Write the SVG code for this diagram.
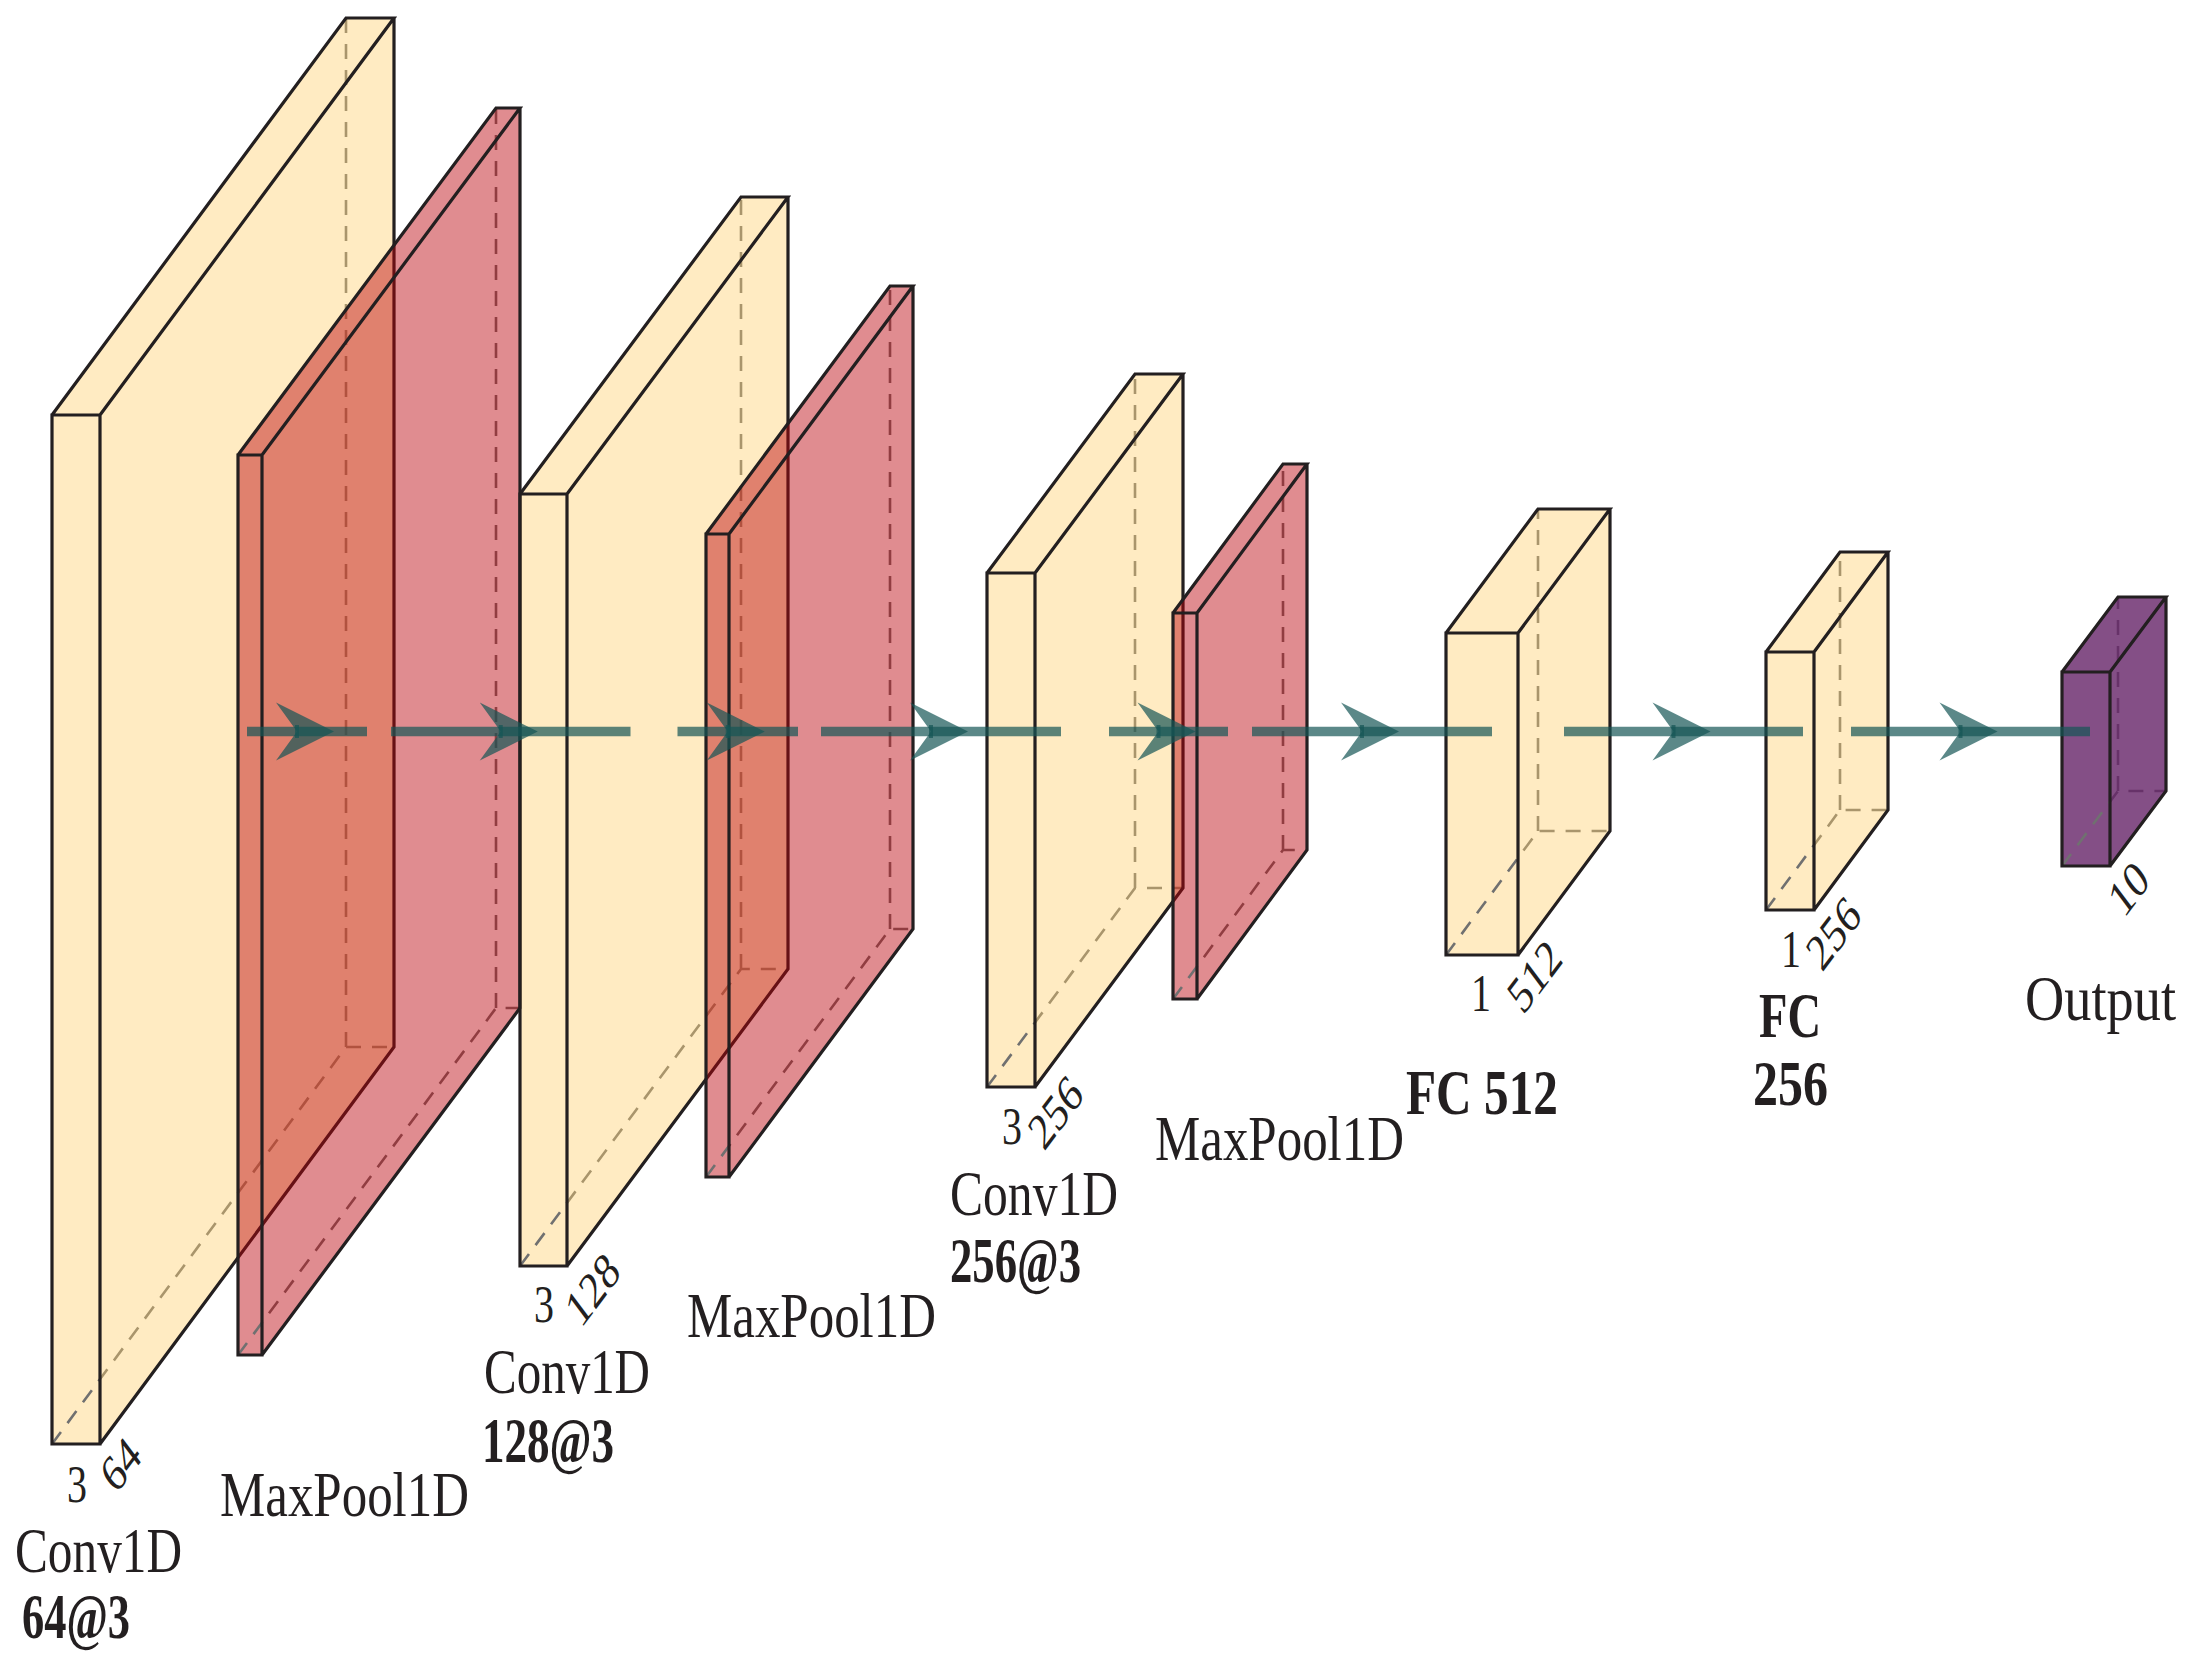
<svg xmlns="http://www.w3.org/2000/svg" width="2195" height="1658" viewBox="0 0 2195 1658">
<style>
.conv .face{fill:rgb(255,204,102);fill-opacity:0.4}
.pool .face{fill:rgb(187,0,9);fill-opacity:0.45}
.out .face{fill:rgb(101,35,104);fill-opacity:0.8}
.hid{fill:none;stroke:#707070;stroke-width:2.6;stroke-dasharray:15 11}
.edge{fill:none;stroke:#231f20;stroke-width:3.2;stroke-linejoin:miter}
.lbl{font-family:"Liberation Serif",serif;font-size:48px;fill:#231f20}
.b{font-weight:bold}
.dim{font-family:"Liberation Serif",serif;font-size:39px;fill:#231f20}
.dim2{font-family:"Liberation Serif",serif;font-size:40px;fill:#231f20}
.ln{stroke:rgb(21,85,85);stroke-opacity:0.7;stroke-width:9.5;fill:none}
</style>
<defs>
<g id="ah">
<path d="M-31,-29 L27,0 L-31,29 L-10,0 Z" fill="rgb(21,85,85)" fill-opacity="0.7"/>
<rect x="-12" y="-6.5" width="4" height="13" fill="rgb(21,85,85)" fill-opacity="0.7"/>
</g>
</defs>
<rect width="2195" height="1658" fill="#ffffff"/>

<g id="conv1" class="conv">
<path class="face" d="M52,415H100V1444H52Z"/>
<path class="hid" d="M52,1444L346,1047H394M346,1047V18"/>
<path class="face" d="M52,415L346,18H394L100,415ZM100,415L394,18V1047L100,1444Z"/>
<path class="edge" d="M52,415H100V1444H52ZM52,415L346,18H394L100,415M394,18V1047L100,1444"/>
<text class="dim2" transform="translate(67,1502) scale(1,1.33)">3</text>
<text class="dim" transform="translate(116,1495) scale(1,1.33) rotate(-45)">64</text>
<text class="lbl" transform="translate(15,1572) scale(1,1.32)" textLength="167" lengthAdjust="spacingAndGlyphs">Conv1D</text>
<text class="lbl b" transform="translate(22,1638) scale(1,1.32)" textLength="108" lengthAdjust="spacingAndGlyphs">64@3</text>
</g>

<g id="pool1" class="pool">
<path class="face" d="M238,455H262V1355H238Z"/>
<path class="hid" d="M238,1355L496,1008H520M496,1008V108"/>
<path class="face" d="M238,455L496,108H520L262,455ZM262,455L520,108V1008L262,1355Z"/>
<path class="edge" d="M238,455H262V1355H238ZM238,455L496,108H520L262,455M520,108V1008L262,1355"/>
<text class="lbl" transform="translate(220,1516) scale(1,1.32)" textLength="249" lengthAdjust="spacingAndGlyphs">MaxPool1D</text>
</g>

<g id="conv2" class="conv">
<path class="face" d="M520,494H567V1266H520Z"/>
<path class="hid" d="M520,1266L741,969H788M741,969V197"/>
<path class="face" d="M520,494L741,197H788L567,494ZM567,494L788,197V969L567,1266Z"/>
<path class="edge" d="M520,494H567V1266H520ZM520,494L741,197H788L567,494M788,197V969L567,1266"/>
<text class="dim2" transform="translate(534,1322) scale(1,1.33)">3</text>
<text class="dim" transform="translate(581,1329) scale(1,1.33) rotate(-45)">128</text>
<text class="lbl" transform="translate(484,1393) scale(1,1.32)" textLength="166" lengthAdjust="spacingAndGlyphs">Conv1D</text>
<text class="lbl b" transform="translate(482,1462) scale(1,1.32)" textLength="132" lengthAdjust="spacingAndGlyphs">128@3</text>
</g>

<g id="pool2" class="pool">
<path class="face" d="M706,534H729V1177H706Z"/>
<path class="hid" d="M706,1177L890,929H913M890,929V286"/>
<path class="face" d="M706,534L890,286H913L729,534ZM729,534L913,286V929L729,1177Z"/>
<path class="edge" d="M706,534H729V1177H706ZM706,534L890,286H913L729,534M913,286V929L729,1177"/>
<text class="lbl" transform="translate(687,1337) scale(1,1.32)" textLength="249" lengthAdjust="spacingAndGlyphs">MaxPool1D</text>
</g>

<g id="conv3" class="conv">
<path class="face" d="M987,573H1035V1087H987Z"/>
<path class="hid" d="M987,1087L1135,888H1183M1135,888V374"/>
<path class="face" d="M987,573L1135,374H1183L1035,573ZM1035,573L1183,374V888L1035,1087Z"/>
<path class="edge" d="M987,573H1035V1087H987ZM987,573L1135,374H1183L1035,573M1183,374V888L1035,1087"/>
<text class="dim2" transform="translate(1002,1144) scale(1,1.33)">3</text>
<text class="dim" transform="translate(1044,1152) scale(1,1.33) rotate(-45)">256</text>
<text class="lbl" transform="translate(950,1215) scale(1,1.32)" textLength="168" lengthAdjust="spacingAndGlyphs">Conv1D</text>
<text class="lbl b" transform="translate(950,1282) scale(1,1.32)" textLength="131" lengthAdjust="spacingAndGlyphs">256@3</text>
</g>

<g id="pool3" class="pool">
<path class="face" d="M1173,613H1197V999H1173Z"/>
<path class="hid" d="M1173,999L1283,850H1307M1283,850V464"/>
<path class="face" d="M1173,613L1283,464H1307L1197,613ZM1197,613L1307,464V850L1197,999Z"/>
<path class="edge" d="M1173,613H1197V999H1173ZM1173,613L1283,464H1307L1197,613M1307,464V850L1197,999"/>
<text class="lbl" transform="translate(1155,1160) scale(1,1.32)" textLength="249" lengthAdjust="spacingAndGlyphs">MaxPool1D</text>
</g>

<g id="fc512" class="conv">
<path class="face" d="M1446,633H1518V955H1446Z"/>
<path class="hid" d="M1446,955L1538,831H1610M1538,831V509"/>
<path class="face" d="M1446,633L1538,509H1610L1518,633ZM1518,633L1610,509V831L1518,955Z"/>
<path class="edge" d="M1446,633H1518V955H1446ZM1446,633L1538,509H1610L1518,633M1610,509V831L1518,955"/>
<text class="dim2" transform="translate(1471,1011) scale(1,1.33)">1</text>
<text class="dim" transform="translate(1523,1016) scale(1,1.33) rotate(-45)">512</text>
<text class="lbl b" transform="translate(1406,1114) scale(1,1.32)" textLength="152" lengthAdjust="spacingAndGlyphs">FC 512</text>
</g>

<g id="fc256" class="conv">
<path class="face" d="M1766,652H1814V910H1766Z"/>
<path class="hid" d="M1766,910L1840,810H1888M1840,810V552"/>
<path class="face" d="M1766,652L1840,552H1888L1814,652ZM1814,652L1888,552V810L1814,910Z"/>
<path class="edge" d="M1766,652H1814V910H1766ZM1766,652L1840,552H1888L1814,652M1888,552V810L1814,910"/>
<text class="dim2" transform="translate(1781,967) scale(1,1.33)">1</text>
<text class="dim" transform="translate(1822,973) scale(1,1.33) rotate(-45)">256</text>
<text class="lbl b" transform="translate(1759,1037) scale(1,1.32)" textLength="62" lengthAdjust="spacingAndGlyphs">FC</text>
<text class="lbl b" transform="translate(1753,1105) scale(1,1.32)" textLength="75" lengthAdjust="spacingAndGlyphs">256</text>
</g>

<g id="output" class="out">
<path class="face" d="M2062,672H2110V866H2062Z"/>
<path class="hid" d="M2062,866L2118,791H2166M2118,791V597"/>
<path class="face" d="M2062,672L2118,597H2166L2110,672ZM2110,672L2166,597V791L2110,866Z"/>
<path class="edge" d="M2062,672H2110V866H2062ZM2062,672L2118,597H2166L2110,672M2166,597V791L2110,866"/>
<text class="dim" transform="translate(2124,919) scale(1,1.33) rotate(-45)">10</text>
<text class="lbl" transform="translate(2025,1020) scale(1,1.32)" textLength="151" lengthAdjust="spacingAndGlyphs">Output</text>
</g>

<g id="connectors">
<line class="ln" x1="247" y1="731.5" x2="367" y2="731.5"/>
<use href="#ah" x="307" y="731.5"/>
<line class="ln" x1="391" y1="731.5" x2="630.5" y2="731.5"/>
<use href="#ah" x="510.75" y="731.5"/>
<line class="ln" x1="677.5" y1="731.5" x2="798" y2="731.5"/>
<use href="#ah" x="737.75" y="731.5"/>
<line class="ln" x1="821" y1="731.5" x2="1061" y2="731.5"/>
<use href="#ah" x="941" y="731.5"/>
<line class="ln" x1="1109" y1="731.5" x2="1228" y2="731.5"/>
<use href="#ah" x="1168.5" y="731.5"/>
<line class="ln" x1="1252" y1="731.5" x2="1492" y2="731.5"/>
<use href="#ah" x="1372" y="731.5"/>
<line class="ln" x1="1564" y1="731.5" x2="1803" y2="731.5"/>
<use href="#ah" x="1683.5" y="731.5"/>
<line class="ln" x1="1851" y1="731.5" x2="2090" y2="731.5"/>
<use href="#ah" x="1970.5" y="731.5"/>
</g>
</svg>
